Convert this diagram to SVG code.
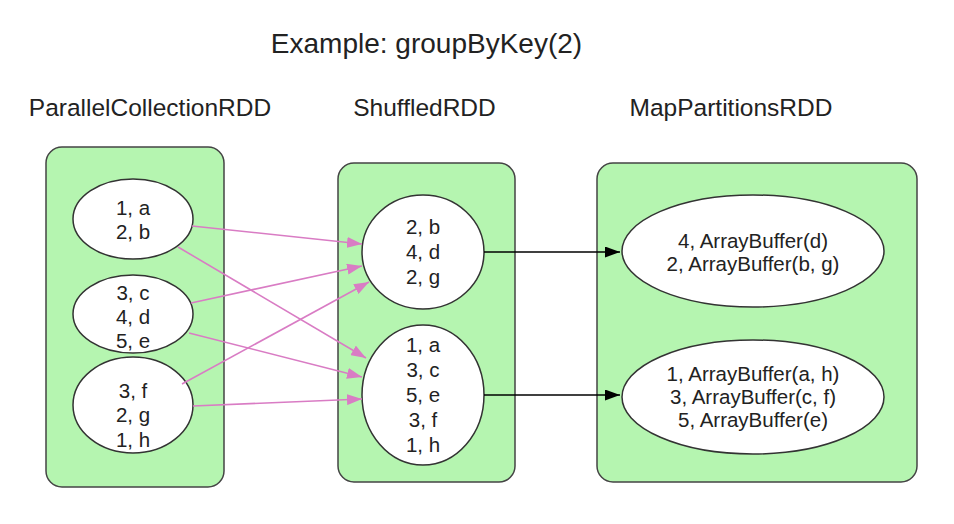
<svg xmlns="http://www.w3.org/2000/svg" width="954" height="524" viewBox="0 0 954 524">
<defs>
<style>
.box{fill:#b5f5b0;stroke:#444;stroke-width:1.5}
.ell{fill:#fff;stroke:#333;stroke-width:1.5}
text{font-family:"Liberation Sans",Arial,sans-serif;fill:#222}
.t{font-size:20.5px;text-anchor:middle}
.lbl{font-size:24.5px;text-anchor:middle}
.title{font-size:28px;text-anchor:middle}
.pink{stroke:#d97cc4;stroke-width:1.6;fill:none}
.blk{stroke:#000;stroke-width:1.5;fill:none}
</style>
<marker id="ap" viewBox="0 0 15 11" refX="15" refY="5.5" markerWidth="15" markerHeight="11" markerUnits="userSpaceOnUse" orient="auto"><path d="M0,0 L15,5.5 L0,11 Z" fill="#d97cc4"/></marker>
<marker id="ab" viewBox="0 0 15 11" refX="15" refY="5.5" markerWidth="15" markerHeight="11" markerUnits="userSpaceOnUse" orient="auto"><path d="M0,0 L15,5.5 L0,11 Z" fill="#000"/></marker>
</defs>
<rect width="954" height="524" fill="#fff"/>
<text class="title" x="426.5" y="53">Example: groupByKey(2)</text>
<g id="rdd1">
<text class="lbl" x="150" y="116">ParallelCollectionRDD</text>
<rect class="box" x="46" y="147" width="178" height="340" rx="16"/>
</g>
<g id="rdd2">
<text class="lbl" x="424.5" y="116">ShuffledRDD</text>
<rect class="box" x="338" y="163" width="177" height="319" rx="16"/>
</g>
<g id="rdd3">
<text class="lbl" x="731" y="116">MapPartitionsRDD</text>
<rect class="box" x="597" y="163" width="320" height="319" rx="16"/>
</g>
<g id="p1">
<ellipse class="ell" cx="133" cy="219" rx="60" ry="40"/>
<text class="t" x="133" y="215">1, a</text>
<text class="t" x="133" y="239">2, b</text>
</g>
<g id="p2">
<ellipse class="ell" cx="133" cy="314" rx="60" ry="39"/>
<text class="t" x="133" y="300">3, c</text>
<text class="t" x="133" y="324">4, d</text>
<text class="t" x="133" y="348">5, e</text>
</g>
<g id="p3">
<ellipse class="ell" cx="133" cy="405" rx="60" ry="48"/>
<text class="t" x="133" y="398">3, f</text>
<text class="t" x="133" y="422">2, g</text>
<text class="t" x="133" y="447">1, h</text>
</g>
<g id="s1">
<ellipse class="ell" cx="423" cy="252" rx="61" ry="57"/>
<text class="t" x="423" y="234">2, b</text>
<text class="t" x="423" y="259">4, d</text>
<text class="t" x="423" y="284">2, g</text>
</g>
<g id="s2">
<ellipse class="ell" cx="423" cy="395" rx="61" ry="70"/>
<text class="t" x="423" y="352">1, a</text>
<text class="t" x="423" y="377">3, c</text>
<text class="t" x="423" y="402">5, e</text>
<text class="t" x="423" y="427">3, f</text>
<text class="t" x="423" y="452">1, h</text>
</g>
<g id="m1">
<ellipse class="ell" cx="753" cy="251" rx="131" ry="56"/>
<text class="t" x="753" y="248">4, ArrayBuffer(d)</text>
<text class="t" x="753" y="271">2, ArrayBuffer(b, g)</text>
</g>
<g id="m2">
<ellipse class="ell" cx="753" cy="397" rx="131" ry="57"/>
<text class="t" x="753" y="381">1, ArrayBuffer(a, h)</text>
<text class="t" x="753" y="404">3, ArrayBuffer(c, f)</text>
<text class="t" x="753" y="427">5, ArrayBuffer(e)</text>
</g>
<g id="connectors">
<line class="pink" x1="192" y1="226" x2="362" y2="244" marker-end="url(#ap)"/>
<line class="pink" x1="178" y1="247" x2="366" y2="358" marker-end="url(#ap)"/>
<line class="pink" x1="191" y1="303" x2="362" y2="266" marker-end="url(#ap)"/>
<line class="pink" x1="189" y1="333" x2="362" y2="377" marker-end="url(#ap)"/>
<line class="pink" x1="182" y1="384" x2="369" y2="282" marker-end="url(#ap)"/>
<line class="pink" x1="193" y1="406" x2="362" y2="399" marker-end="url(#ap)"/>
<line class="blk" x1="484" y1="252" x2="620" y2="252" marker-end="url(#ab)"/>
<line class="blk" x1="484" y1="395" x2="620" y2="395" marker-end="url(#ab)"/>
</g>
</svg>
